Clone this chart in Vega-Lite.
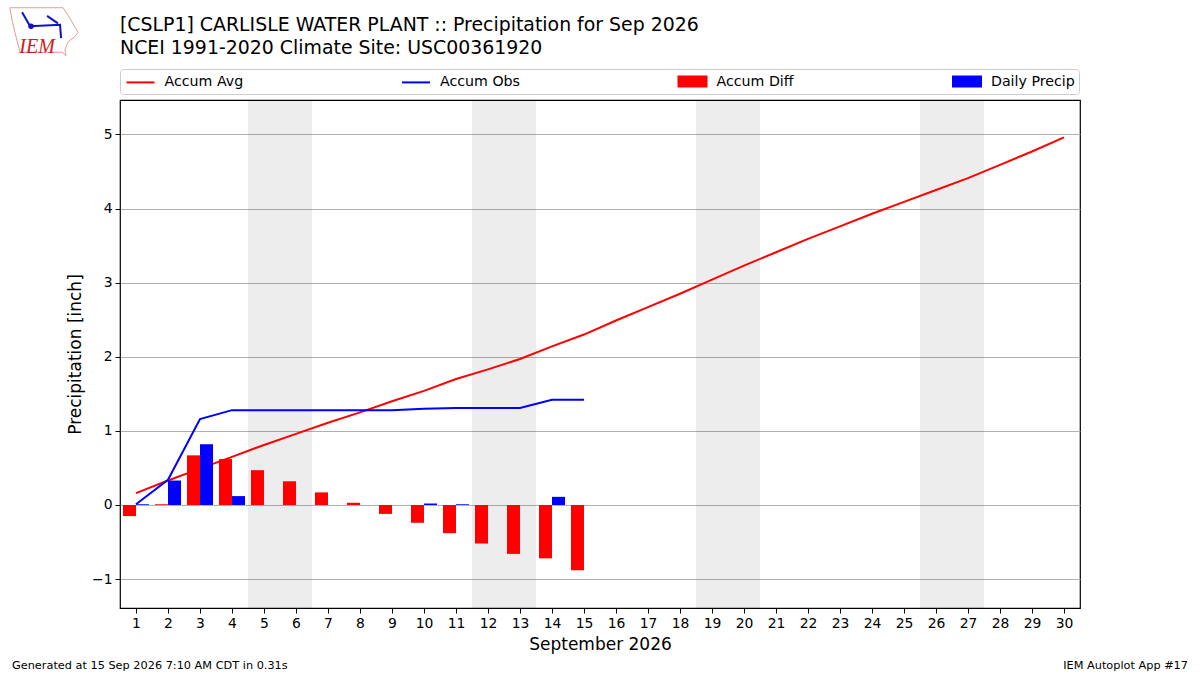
{
"$schema":"https://vega.github.io/schema/vega-lite/v6.json",
"width":960,"height":508,
"autosize":{"type":"none"},
"padding":{"left":120,"top":100,"right":120,"bottom":67},
"background":"white",
"config":{"font":"DejaVu Sans","view":{"stroke":"black","strokeWidth":1.2}},
"title":{"text":["[CSLP1] CARLISLE WATER PLANT :: Precipitation for Sep 2026","NCEI 1991-2020 Climate Site: USC00361920"],"anchor":"start","frame":"group","font":"DejaVu Sans","fontSize":18.9,"fontWeight":"normal","lineHeight":23,"offset":-52,"color":"black"},
"datasets":{
"series":[
{"x":1,"series":"Accum Avg","y":0.16},{"x":2,"series":"Accum Avg","y":0.33},{"x":3,"series":"Accum Avg","y":0.49},{"x":4,"series":"Accum Avg","y":0.65},{"x":5,"series":"Accum Avg","y":0.81},{"x":6,"series":"Accum Avg","y":0.96},{"x":7,"series":"Accum Avg","y":1.11},{"x":8,"series":"Accum Avg","y":1.25},{"x":9,"series":"Accum Avg","y":1.40},{"x":10,"series":"Accum Avg","y":1.54},{"x":11,"series":"Accum Avg","y":1.70},{"x":12,"series":"Accum Avg","y":1.83},{"x":13,"series":"Accum Avg","y":1.97},{"x":14,"series":"Accum Avg","y":2.14},{"x":15,"series":"Accum Avg","y":2.30},{"x":16,"series":"Accum Avg","y":2.49},{"x":17,"series":"Accum Avg","y":2.67},{"x":18,"series":"Accum Avg","y":2.85},{"x":19,"series":"Accum Avg","y":3.04},{"x":20,"series":"Accum Avg","y":3.23},{"x":21,"series":"Accum Avg","y":3.41},{"x":22,"series":"Accum Avg","y":3.59},{"x":23,"series":"Accum Avg","y":3.76},{"x":24,"series":"Accum Avg","y":3.93},{"x":25,"series":"Accum Avg","y":4.09},{"x":26,"series":"Accum Avg","y":4.25},{"x":27,"series":"Accum Avg","y":4.41},{"x":28,"series":"Accum Avg","y":4.59},{"x":29,"series":"Accum Avg","y":4.77},{"x":30,"series":"Accum Avg","y":4.96},
{"x":1,"series":"Accum Obs","y":0.01},{"x":2,"series":"Accum Obs","y":0.34},{"x":3,"series":"Accum Obs","y":1.16},{"x":4,"series":"Accum Obs","y":1.28},{"x":5,"series":"Accum Obs","y":1.28},{"x":6,"series":"Accum Obs","y":1.28},{"x":7,"series":"Accum Obs","y":1.28},{"x":8,"series":"Accum Obs","y":1.28},{"x":9,"series":"Accum Obs","y":1.28},{"x":10,"series":"Accum Obs","y":1.30},{"x":11,"series":"Accum Obs","y":1.31},{"x":12,"series":"Accum Obs","y":1.31},{"x":13,"series":"Accum Obs","y":1.31},{"x":14,"series":"Accum Obs","y":1.42},{"x":15,"series":"Accum Obs","y":1.42},
{"x":1,"series":"Accum Diff","y":-0.15},{"x":2,"series":"Accum Diff","y":0.01},{"x":3,"series":"Accum Diff","y":0.67},{"x":4,"series":"Accum Diff","y":0.62},{"x":5,"series":"Accum Diff","y":0.47},{"x":6,"series":"Accum Diff","y":0.32},{"x":7,"series":"Accum Diff","y":0.17},{"x":8,"series":"Accum Diff","y":0.03},{"x":9,"series":"Accum Diff","y":-0.12},{"x":10,"series":"Accum Diff","y":-0.24},{"x":11,"series":"Accum Diff","y":-0.38},{"x":12,"series":"Accum Diff","y":-0.52},{"x":13,"series":"Accum Diff","y":-0.66},{"x":14,"series":"Accum Diff","y":-0.72},{"x":15,"series":"Accum Diff","y":-0.88},
{"x":1,"series":"Daily Precip","y":0.01},{"x":2,"series":"Daily Precip","y":0.33},{"x":3,"series":"Daily Precip","y":0.82},{"x":4,"series":"Daily Precip","y":0.12},{"x":5,"series":"Daily Precip","y":0},{"x":6,"series":"Daily Precip","y":0},{"x":7,"series":"Daily Precip","y":0},{"x":8,"series":"Daily Precip","y":0},{"x":9,"series":"Daily Precip","y":0},{"x":10,"series":"Daily Precip","y":0.02},{"x":11,"series":"Daily Precip","y":0.01},{"x":12,"series":"Daily Precip","y":0},{"x":13,"series":"Daily Precip","y":0},{"x":14,"series":"Daily Precip","y":0.11},{"x":15,"series":"Daily Precip","y":0}
],
"weekends":[{"x":4.5,"end":6.5,"y":-1.39,"top":5.465},{"x":11.5,"end":13.5,"y":-1.39,"top":5.465},{"x":18.5,"end":20.5,"y":-1.39,"top":5.465},{"x":25.5,"end":27.5,"y":-1.39,"top":5.465}],
"outline":[{"x":-2.94,"y":6.71,"o":0},{"x":-1.28,"y":6.71,"o":1},{"x":-1.125,"y":6.61,"o":2},{"x":-0.81,"y":6.38,"o":3},{"x":-0.91,"y":6.32,"o":4},{"x":-1.125,"y":6.25,"o":5},{"x":-1.22,"y":6.14,"o":6},{"x":-1.19,"y":6.06,"o":7},{"x":-1.31,"y":6.11,"o":8},{"x":-2.625,"y":6.11,"o":9},{"x":-2.78,"y":6.37,"o":10},{"x":-2.875,"y":6.55,"o":11},{"x":-2.94,"y":6.71,"o":12}],
"glyph":[{"x":-2.56,"y":6.65,"o":0,"g":"a"},{"x":-2.31,"y":6.46,"o":1,"g":"a"},{"x":-1.375,"y":6.48,"o":2,"g":"a"},{"x":-1.34,"y":6.3,"o":3,"g":"a"},{"x":-1.78,"y":6.6,"o":0,"g":"b"},{"x":-1.44,"y":6.5,"o":1,"g":"b"}],
"dot":[{"x":-2.28,"y":6.46}],
"notes":[{"x":-2.875,"y":-2.175,"t":"Generated at 15 Sep 2026 7:10 AM CDT in 0.31s"}],
"notesR":[{"x":33.875,"y":-2.175,"t":"IEM Autoplot App #17"}],
"logoText":[{"x":-2.09,"y":6.18,"t":"IEM"}]
},
"encoding":{
"x":{"field":"x","type":"quantitative","title":"September 2026","scale":{"domain":[0.5,30.5],"nice":false,"zero":false,"padding":0},"axis":{"values":[1,2,3,4,5,6,7,8,9,10,11,12,13,14,15,16,17,18,19,20,21,22,23,24,25,26,27,28,29,30],"format":"d","labelOverlap":false,"grid":false,"domain":false,"tickColor":"black","tickSize":5,"labelColor":"black","labelFontSize":13.9,"labelPadding":3,"titleFontSize":17,"titleFontWeight":"normal","titleColor":"black","titlePadding":7}},
"y":{"field":"y","type":"quantitative","title":"Precipitation [inch]","scale":{"domain":[-1.39,5.465],"nice":false,"zero":false},"axis":{"values":[-1,0,1,2,3,4,5],"format":"d","grid":true,"gridColor":"#b0b0b0","gridWidth":1,"domain":false,"tickColor":"black","tickSize":5,"labelColor":"black","labelFontSize":13.9,"labelPadding":3,"titleFontSize":17,"titleFontWeight":"normal","titleColor":"black","titlePadding":7}}
},
"layer":[
{"data":{"name":"weekends"},"mark":{"type":"rect","fill":"black","opacity":0.07},"encoding":{"x2":{"field":"end"},"y2":{"field":"top"}}},
{"data":{"name":"series"},"transform":[{"filter":"datum.series==='Accum Avg'||datum.series==='Accum Obs'"}],"mark":{"type":"line","strokeWidth":2,"clip":false},
"encoding":{"color":{"field":"series","type":"nominal","scale":{"domain":["Accum Avg","Accum Obs","Accum Diff","Daily Precip"],"range":["#ff0000","#0000ff","#ff0000","#0000ff"]},"legend":{"title":null,"orient":"none","legendX":0,"legendY":-31,"direction":"horizontal","columns":4,"columnPadding":154.5,"padding":3.5,"strokeColor":"#cccccc","cornerRadius":3,"fillColor":"white","labelFontSize":14.2,"labelColor":"black","labelOffset":19,"symbolSize":400,"symbolOpacity":1,"symbolStrokeWidth":2,"encode":{"labels":{"update":{"y":{"value":9}}},"symbols":{"update":{"x":{"value":17},"y":{"value":9},"shape":{"signal":"indexof(['Accum Avg','Accum Obs'],datum.value)>=0?'M-1.4,0H1.4':'M-1.4,-0.5H1.4V0.5H-1.4Z'"},"fill":{"signal":"indexof(['Accum Avg','Accum Obs'],datum.value)>=0?'transparent':(datum.value==='Accum Diff'?'#ff0000':'#0000ff')"},"stroke":{"signal":"datum.value==='Accum Avg'?'#ff0000':(datum.value==='Accum Obs'?'#0000ff':'transparent')"}}}}}}}},
{"data":{"name":"series"},"transform":[{"filter":"datum.series==='Accum Diff'"}],"mark":{"type":"bar","orient":"vertical","size":13,"xOffset":-6.5},
"encoding":{"y2":{"datum":0},"color":{"field":"series","type":"nominal"}}},
{"data":{"name":"series"},"transform":[{"filter":"datum.series==='Daily Precip'"}],"mark":{"type":"bar","orient":"vertical","size":13,"xOffset":6.5},
"encoding":{"y2":{"datum":0},"color":{"field":"series","type":"nominal"}}},
{"data":{"name":"outline"},"mark":{"type":"line","color":"#e89a9a","strokeWidth":1,"clip":false},"encoding":{"order":{"field":"o"}}},
{"data":{"name":"glyph"},"mark":{"type":"line","color":"#1010c8","strokeWidth":2,"clip":false},"encoding":{"order":{"field":"o"},"detail":{"field":"g"}}},
{"data":{"name":"dot"},"mark":{"type":"point","filled":true,"size":30,"opacity":1,"color":"#1010c8","clip":false}},
{"data":{"name":"logoText"},"mark":{"type":"text","font":"Liberation Serif","fontStyle":"italic","fontSize":20,"color":"#cc2020","clip":false},"encoding":{"text":{"field":"t"}}},
{"data":{"name":"notes"},"mark":{"type":"text","align":"left","fontSize":11.3,"color":"black","clip":false},"encoding":{"text":{"field":"t"}}},
{"data":{"name":"notesR"},"mark":{"type":"text","align":"right","fontSize":11.3,"color":"black","clip":false},"encoding":{"text":{"field":"t"}}}
]
}
